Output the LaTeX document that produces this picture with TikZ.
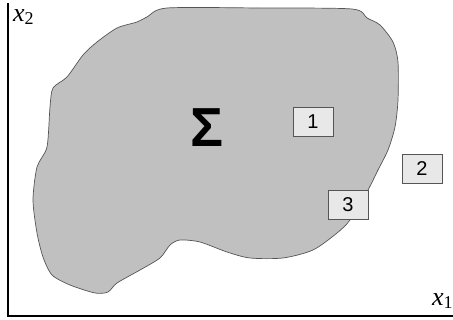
\documentclass[tikz,border=0pt]{standalone}
\usepackage{fontspec}
\setmainfont{Liberation Serif}
\newfontfamily\arialfont{Liberation Sans}
\definecolor{blobfill}{HTML}{C0C0C0}
\definecolor{boxfill}{HTML}{E8E8E8}
\definecolor{edgegray}{HTML}{555555}
\begin{document}
\begin{tikzpicture}[x=1pt,y=-1pt,
  numbox/.style={draw=edgegray, line width=0.8pt, fill=boxfill, minimum width=40pt, minimum height=29pt, inner sep=0pt, font=\arialfont\fontsize{20}{20}\selectfont},
  axisline/.style={line width=1.8pt, black}]
\useasboundingbox (0,0) rectangle (453,320);
\fill[white] (0,0) rectangle (453,320);
\draw[draw=edgegray, line width=0.7pt, fill=blobfill] plot[smooth cycle, tension=0.45] coordinates {
(167,8) (260,8) (352,9) (367,18) (380,25) (393,42) (398,62) (398,100) (395,127) (388,150) (378,170) (368,190) (350,220) (337,233) (313,250) (283,258) (250,258) (227,252) (200,242) (180,240) (170,245) (160,258) (140,270) (117,283) (108,292) (95,293) (70,285) (52,275) (43,257) (37,233) (33,200) (37,167) (47,147) (50,107) (53,88) (67,77) (83,55) (97,42) (117,28) (137,22) (147,17)};
\coordinate (origin) at (8,316);
\coordinate (ytop) at (8,3);
\coordinate (xend) at (453,316);
\draw[axisline] (ytop) -- (origin) -- (xend);
\node (b1) [numbox] at (313,122) {1};
\node (b2) [numbox] at (422,168.5) {2};
\node (b3) [numbox] at (348,204.5) {3};
\node (sigma) at (207,128) {\arialfont\bfseries\fontsize{55}{55}\selectfont Σ};
\node (lx2) [anchor=west, inner sep=0pt] at (13,17) {\fontsize{26}{26}\selectfont\textit{x}\raisebox{-0.3ex}{\fontsize{18}{18}\selectfont 2}};
\node (lx1) [anchor=west, inner sep=0pt] at (432,301) {\fontsize{26}{26}\selectfont\textit{x}\raisebox{-0.3ex}{\fontsize{18}{18}\selectfont 1}};
\end{tikzpicture}
\end{document}
